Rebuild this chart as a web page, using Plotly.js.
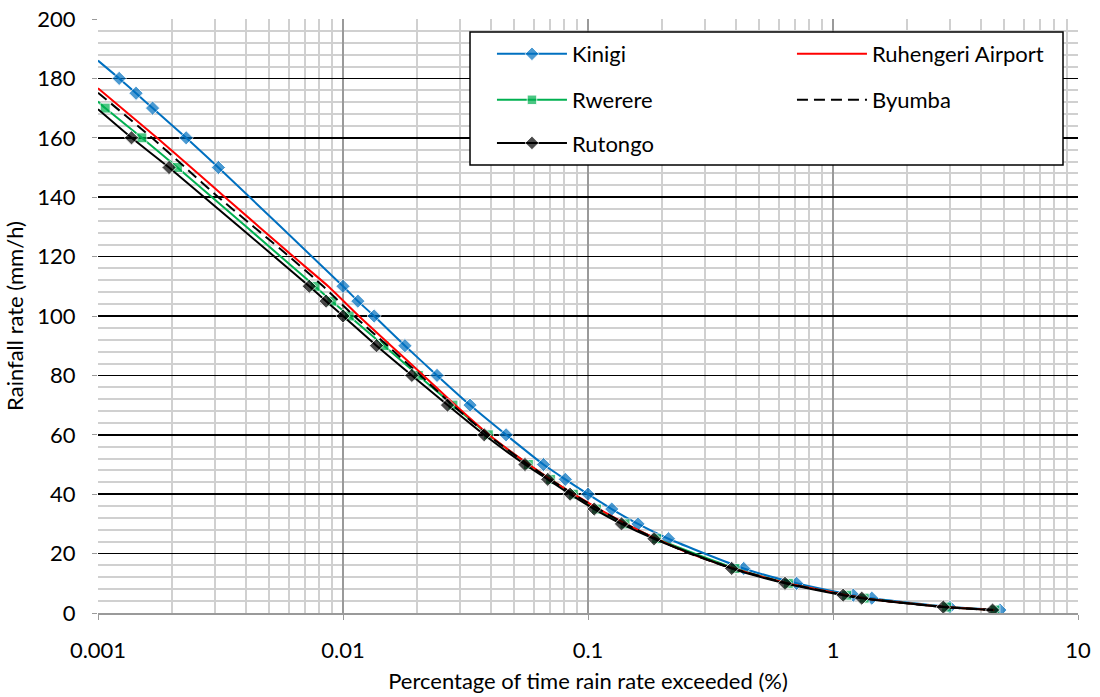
<!DOCTYPE html>
<html><head><meta charset="utf-8">
<script src="https://cdn.plot.ly/plotly-3.0.1.min.js"></script>
<style>html,body{margin:0;padding:0;background:#fff}#chart{width:1100px;height:697px}</style>
</head><body><div id="chart"></div>
<script>
// Data (x: % of time exceeded, y: rain rate mm/h)
// first point of each marked series is the curve's value at the left edge (no marker drawn there)
const kinigiX = [0.001, 0.00122, 0.00143, 0.00167, 0.00229, 0.0031, 0.01, 0.0115, 0.0134, 0.0179, 0.0242, 0.033, 0.0463, 0.0658, 0.0808, 0.1, 0.125, 0.16, 0.213, 0.432, 0.71, 1.21, 1.44, 3.0, 4.8];
const kinigiY = [186, 180, 175, 170, 160, 150, 110, 105, 100, 90, 80, 70, 60, 50, 45, 40, 35, 30, 25, 15, 10, 6, 5, 2, 1];

const rwerereX = [0.001, 0.00107, 0.00151, 0.00211, 0.00769, 0.009, 0.0106, 0.0147, 0.0203, 0.0281, 0.0392, 0.0571, 0.0704, 0.0871, 0.1084, 0.1416, 0.1906, 0.398, 0.657, 1.137, 1.34, 2.91, 4.58];
const rwerereY = [172.2, 170, 160, 150, 110, 105, 100, 90, 80, 70, 60, 50, 45, 40, 35, 30, 25, 15, 10, 6, 5, 2, 1];

const rutongoX = [0.001, 0.00137, 0.00195, 0.00728, 0.00853, 0.01, 0.0137, 0.0191, 0.0267, 0.0377, 0.0553, 0.0685, 0.0845, 0.106, 0.137, 0.186, 0.386, 0.637, 1.10, 1.31, 2.82, 4.48];
const rutongoY = [169.6, 160, 150, 110, 105, 100, 90, 80, 70, 60, 50, 45, 40, 35, 30, 25, 15, 10, 6, 5, 2, 1];

const ruhengeriX = [0.001, 0.00174, 0.0024, 0.0033, 0.00627, 0.0087, 0.0116, 0.0157, 0.0213, 0.0287, 0.0394, 0.0574, 0.0875, 0.143, 0.19, 0.262, 0.393, 0.652, 1.34, 2.88, 4.55];
const ruhengeriY = [176.7, 160, 150, 140, 120, 110, 100, 90, 80, 70, 60, 50, 40, 30, 25, 20, 15, 10, 5, 2, 1];

const byumbaX = [0.001, 0.00166, 0.00227, 0.0031, 0.00604, 0.0083, 0.0111, 0.0152, 0.0207, 0.028, 0.039, 0.0568, 0.087, 0.142, 0.189, 0.26, 0.39, 0.65, 1.33, 2.86, 4.5];
const byumbaY = [175.2, 160, 150, 140, 120, 110, 100, 90, 80, 70, 60, 50, 40, 30, 25, 20, 15, 10, 5, 2, 1];

const xTickVals = [0.001, 0.01, 0.1, 1, 10];
const xTickText = ['0.001', '0.01', '0.1', '1', '10'];
const xMinorVals = [];
for (let d = -3; d <= 0; d++) for (let k = 2; k <= 9; k++) xMinorVals.push(+(k * Math.pow(10, d)).toPrecision(3));

const FONT = 'Lato, "Open Sans", sans-serif';
const sizes = (n, s) => Array.from({length: n}, (_, i) => i === 0 ? 0 : s);

const traces = [
  {name: 'Kinigi', x: kinigiX, y: kinigiY, mode: 'lines+markers', legend: 'legend',
   line: {color: '#0070C0', width: 2, shape: 'spline', smoothing: 0.6},
   marker: {symbol: 'diamond', size: sizes(kinigiX.length, 11), color: '#0070C0'}},
  {name: 'Rwerere', x: rwerereX, y: rwerereY, mode: 'lines+markers', legend: 'legend2',
   line: {color: '#00B050', width: 2, shape: 'spline', smoothing: 0.6},
   marker: {symbol: 'square', size: sizes(rwerereX.length, 10), color: '#00B050'}},
  {name: 'Ruhengeri Airport', x: ruhengeriX, y: ruhengeriY, mode: 'lines', legend: 'legend',
   line: {color: '#FF0000', width: 2, shape: 'spline', smoothing: 0.6}},
  {name: 'Byumba', x: byumbaX, y: byumbaY, mode: 'lines', legend: 'legend2',
   line: {color: '#000000', width: 2, dash: '11px,6px', shape: 'spline', smoothing: 0.6}},
  {name: 'Rutongo', x: rutongoX, y: rutongoY, mode: 'lines+markers', legend: 'legend3',
   line: {color: '#000000', width: 2, shape: 'spline', smoothing: 0.6},
   marker: {symbol: 'diamond', size: sizes(rutongoX.length, 11), color: '#000000'}}
];

const legendBase = {orientation: 'h', xanchor: 'left', yanchor: 'middle', bgcolor: 'rgba(0,0,0,0)',
  borderwidth: 0, font: {family: FONT, size: 22, color: '#000'}, entrywidth: 215, entrywidthmode: 'pixels', itemwidth: 70};

const layout = {
  width: 1100, height: 697,
  margin: {l: 98, r: 22, t: 19, b: 84, autoexpand: false},
  paper_bgcolor: '#fff', plot_bgcolor: '#fff',
  font: {family: FONT, size: 22, color: '#000'},
  showlegend: true,
  legend: Object.assign({}, legendBase, {x: 0.402, y: 0.941}),
  legend2: Object.assign({}, legendBase, {x: 0.402, y: 0.8636}),
  legend3: Object.assign({}, legendBase, {x: 0.402, y: 0.791}),
  xaxis: {
    type: 'log', range: [-3, 1], tickvals: xTickVals, ticktext: xTickText,
    showgrid: true, gridcolor: '#9a9a9a', gridwidth: 2,
    minor: {tickvals: xMinorVals, showgrid: true, gridcolor: '#d0d0d0', gridwidth: 2, ticks: ''},
    showline: true, linecolor: '#9a9a9a', linewidth: 2,
    ticks: 'outside', ticklen: 5, tickcolor: '#9a9a9a', ticklabelstandoff: 12,
    tickfont: {family: FONT, size: 22, color: '#000'}, zeroline: false, automargin: false,
    title: {text: 'Percentage of time rain rate exceeded (%)', font: {family: FONT, size: 22, color: '#000'}, standoff: 11}
  },
  yaxis: {
    range: [0, 200], dtick: 20, tick0: 0,
    showgrid: true, gridcolor: '#000000', gridwidth: 1.5,
    minor: {dtick: 4, showgrid: true, gridcolor: '#d0d0d0', gridwidth: 2, ticks: ''},
    showline: false, zeroline: false, automargin: false,
    ticks: 'outside', ticklen: 5, tickcolor: '#9a9a9a', ticklabelstandoff: 12,
    tickfont: {family: FONT, size: 22, color: '#000'},
    title: {text: 'Rainfall rate (mm/h)', font: {family: FONT, size: 22, color: '#000'}, standoff: 7}
  },
  shapes: [
    {type: 'rect', xref: 'paper', yref: 'paper', x0: 0.3796, x1: 0.9847, y0: 0.7542, y1: 0.9781,
     line: {color: '#000', width: 1.5}, fillcolor: '#fff', layer: 'above'}
  ]
};

Plotly.newPlot('chart', traces, layout, {displayModeBar: false, staticPlot: true});
</script>
</body></html>
